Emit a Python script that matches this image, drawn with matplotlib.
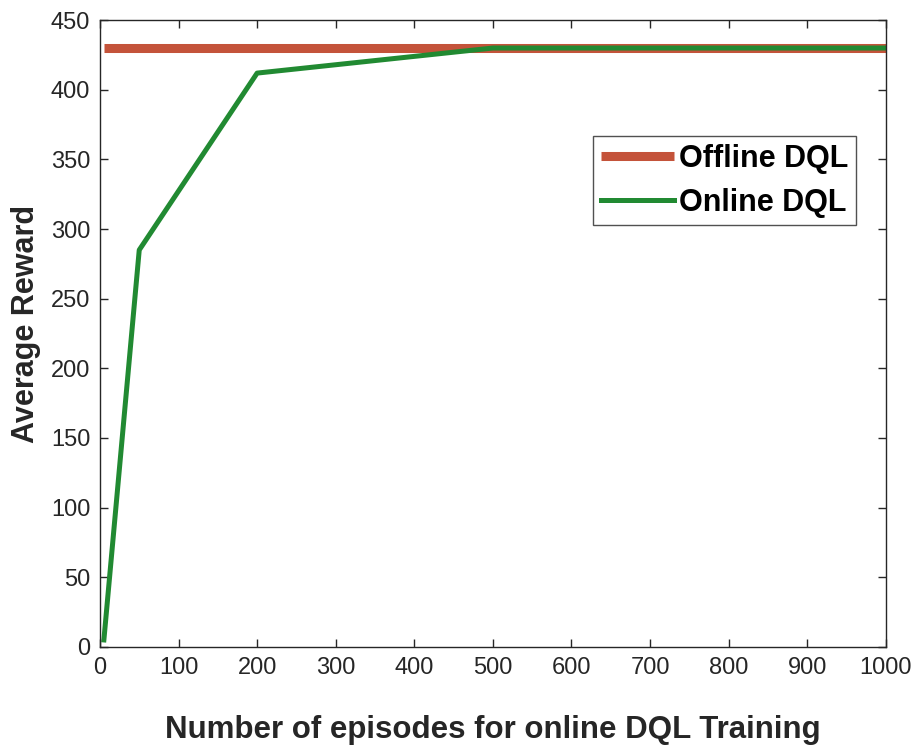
import numpy as np
import matplotlib.pyplot as plt

plt.rcParams['font.family'] = ['Liberation Sans', 'DejaVu Sans']

# online training: episodes vs average reward
episodes = [5, 50, 200, 400, 500, 1000]
online_reward = [5, 285, 412, 424, 430, 430]

# offline agent reward (constant)
offline_x = [5, 1000]
offline_reward = [430, 430]

fig = plt.figure(figsize=(9.17, 7.47), dpi=100)
ax = fig.add_axes([0.109, 0.134, 0.857, 0.839])

ax.plot(offline_x, offline_reward, color='#c4533a', lw=6.5, label='Offline DQL', solid_capstyle='butt')
ax.plot(episodes, online_reward, color='#218a32', lw=3.6, label='Online DQL')

ax.set_xlim(0, 1000)
ax.set_ylim(0, 450)
ax.set_xticks(np.arange(0, 1001, 100))
ax.set_yticks(np.arange(0, 451, 50))
ax.tick_params(direction='in', length=6, width=1, labelsize=17, colors='#262626',
               top=True, right=True, pad=7)
for s in ax.spines.values():
    s.set_color('#262626')
    s.set_linewidth(1)

ax.set_xlabel('Number of episodes for online DQL Training', fontsize=22.5,
              fontweight='bold', color='#262626', labelpad=26)
ax.set_ylabel('Average Reward', fontsize=22, fontweight='bold', color='#262626')
ax.yaxis.set_label_coords(-0.075, 0.515)

leg = ax.legend(loc='upper right', bbox_to_anchor=(0.962, 0.815), borderaxespad=0,
                prop={'weight': 'bold', 'size': 22}, frameon=True, fancybox=False,
                edgecolor='#262626', handlelength=2.4, handletextpad=0.15,
                borderpad=0.25, labelspacing=0.45)
leg.get_frame().set_linewidth(1)

fig.savefig('out.png', dpi=100)
